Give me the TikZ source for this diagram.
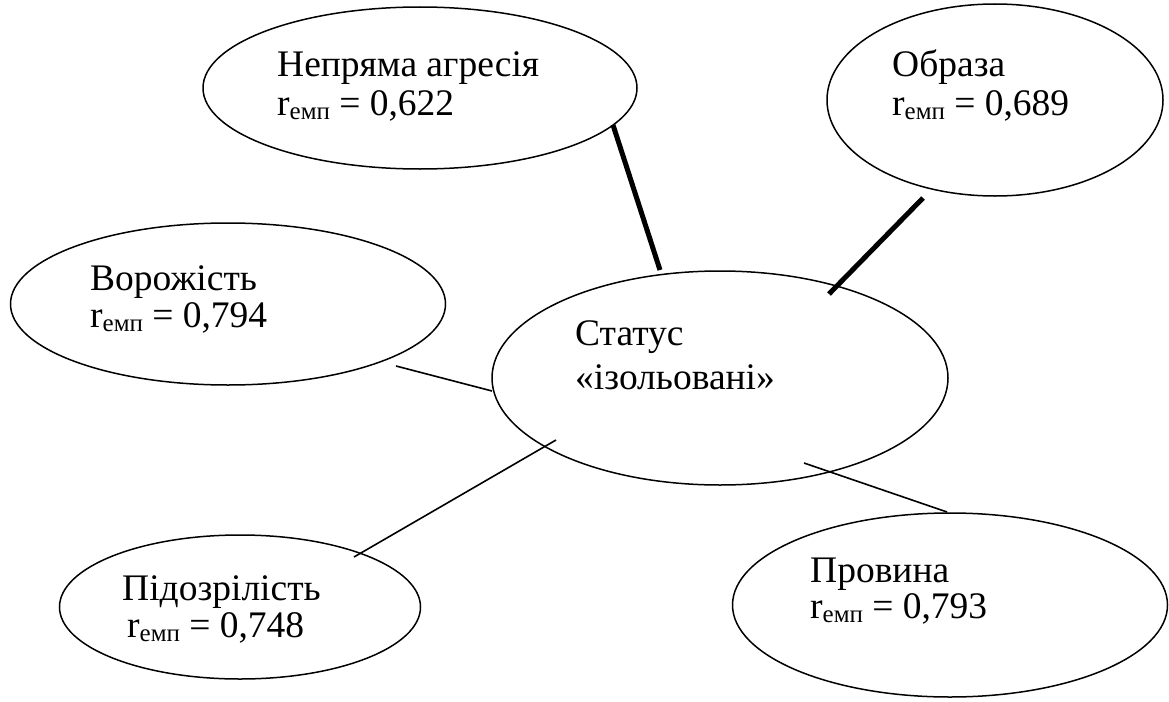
\documentclass[tikz,border=0pt]{standalone}
\usepackage{fontspec}
\setmainfont{Liberation Serif}
\usetikzlibrary{shapes.geometric}
\newcommand{\remp}{r\raisebox{-0.12em}{\fontsize{25}{25}\selectfont емп}}
\begin{document}
\begin{tikzpicture}[x=1pt,y=-1pt,
  oval/.style={draw, ellipse, line width=1.5pt, inner sep=0pt},
  lbl/.style={anchor=base west, inner sep=0pt, font=\fontsize{37.5}{42}\selectfont},
  thinlink/.style={line width=1.6pt},
  thicklink/.style={line width=5pt}]
\useasboundingbox (0,0) rectangle (1169,701);
% ellipses
\node[oval, minimum width=434pt, minimum height=162pt] (agr) at (420,88) {};
\node[oval, minimum width=336pt, minimum height=192pt] (obr) at (995,100) {};
\node[oval, minimum width=435pt, minimum height=162pt] (vor) at (228,304) {};
\node[oval, minimum width=456pt, minimum height=214pt] (sta) at (720,378) {};
\node[oval, minimum width=361pt, minimum height=144pt] (pid) at (240,607) {};
\node[oval, minimum width=435pt, minimum height=184pt] (prv) at (950,605) {};
% texts
\node[lbl] (agrT) at (277,76) {Непряма агресія};
\node[lbl] (agrR) at (277,115) {\remp{} = 0,622};
\node[lbl] (obrT) at (892,77) {Образа};
\node[lbl] (obrR) at (892,115) {\remp{} = 0,689};
\node[lbl] (vorT) at (90,290) {Ворожість};
\node[lbl] (vorR) at (90,327) {\remp{} = 0,794};
\node[lbl] (staT) at (575,345) {Статус};
\node[lbl] (staR) at (575,389) {«ізольовані»};
\node[lbl] (pidT) at (122,600) {Підозрілість};
\node[lbl] (pidR) at (127,637) {\remp{} = 0,748};
\node[lbl] (prvT) at (810,582) {Провина};
\node[lbl] (prvR) at (810,618) {\remp{} = 0,793};
% connectors
\coordinate (a1) at (613,125); \coordinate (a2) at (660,270);
\coordinate (b1) at (923,198); \coordinate (b2) at (829,294);
\coordinate (c1) at (396,366); \coordinate (c2) at (492,391);
\coordinate (e1) at (556,440); \coordinate (e2) at (354,557);
\coordinate (f1) at (804,463); \coordinate (f2) at (947,512);
\draw[thicklink] (a1) -- (a2);
\draw[thicklink] (b1) -- (b2);
\draw[thinlink] (c1) -- (c2);
\draw[thinlink] (e1) -- (e2);
\draw[thinlink] (f1) -- (f2);
\end{tikzpicture}
\end{document}
